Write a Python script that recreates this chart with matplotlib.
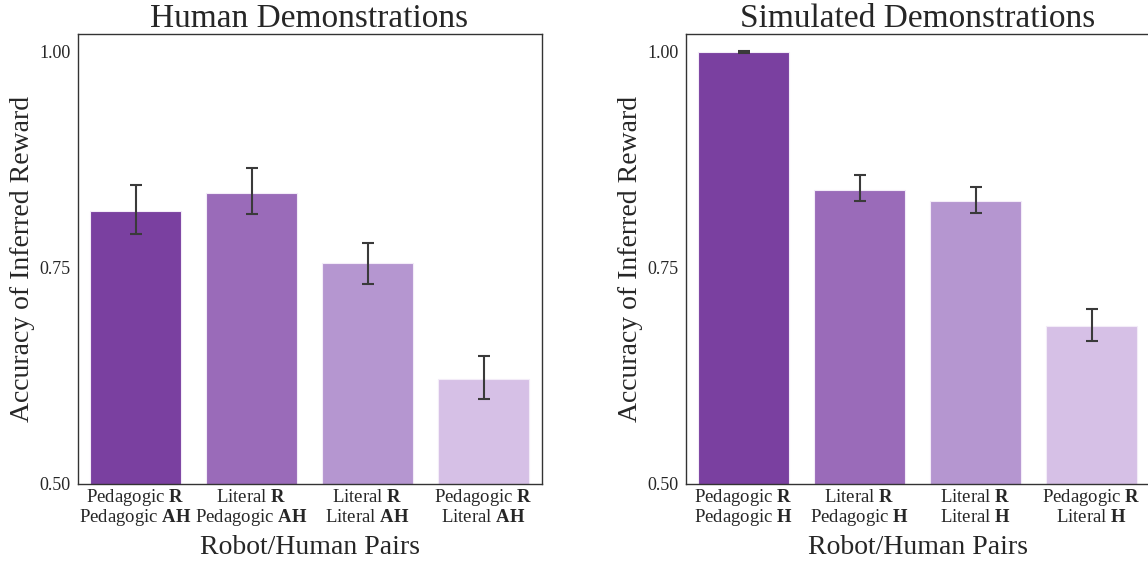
import matplotlib.pyplot as plt
import matplotlib.transforms as mtransforms
import numpy as np

plt.rcParams['font.family'] = 'Liberation Serif'
plt.rcParams['mathtext.fontset'] = 'custom'
plt.rcParams['mathtext.rm'] = 'Liberation Serif'
plt.rcParams['mathtext.bf'] = 'Liberation Serif:bold'

# data (each tick label = robot line, human line)
human_robot = ['Pedagogic', 'Literal', 'Literal', 'Pedagogic']
human_human = ['Pedagogic', 'Pedagogic', 'Literal', 'Literal']
human_tag = 'AH'
human_acc = [0.816, 0.836, 0.755, 0.621]
human_lo = [0.789, 0.812, 0.731, 0.598]
human_hi = [0.846, 0.865, 0.779, 0.648]

sim_robot = ['Pedagogic', 'Literal', 'Literal', 'Pedagogic']
sim_human = ['Pedagogic', 'Pedagogic', 'Literal', 'Literal']
sim_tag = 'H'
sim_acc = [0.999, 0.840, 0.827, 0.682]
sim_lo = [0.998, 0.827, 0.813, 0.665]
sim_hi = [1.000, 0.857, 0.843, 0.702]

colors = ['#7a40a0', '#9a6bb9', '#b596d0', '#d6c0e6']
txt = '#262626'

W, H = 1148, 563
fig = plt.figure(figsize=(W / 100, H / 100), dpi=100)


def panel(left_px, title, robot, human, tag, acc, lo, hi):
    ax = fig.add_axes([left_px / W, (H - 484) / H, 464 / W, 450 / H])
    x = np.arange(len(acc))
    acc = np.array(acc)
    yerr = [acc - np.array(lo), np.array(hi) - acc]
    ax.bar(x, acc, width=0.79, color=colors, edgecolor='#f3ecf8', linewidth=0.8)
    ax.errorbar(x, acc, yerr=yerr, fmt='none', ecolor='#3a3a3a',
                elinewidth=1.5, capsize=4, capthick=1.5)
    ax.set_xlim(-0.5, 3.5)
    ax.set_ylim(0.5, 1.02)
    ax.set_yticks([0.5, 0.75, 1.0])
    ax.set_yticklabels(['0.50', '0.75', '1.00'])
    ax.set_xticks(x)
    ax.set_xticklabels([])
    ax.tick_params(length=0, pad=5, labelsize=13, colors=txt)

    # two-line tick labels, each line on a fixed baseline
    base = ax.get_xaxis_transform()
    tr1 = mtransforms.offset_copy(base, fig=fig, x=0, y=-18, units='dots')
    tr2 = mtransforms.offset_copy(base, fig=fig, x=0, y=-38, units='dots')
    for i in x:
        ax.text(i, 0, robot[i] + ' $\\mathbf{R}$', transform=tr1,
                ha='center', va='baseline', fontsize=13.5, color=txt)
        ax.text(i, 0, human[i] + ' $\\mathbf{' + tag + '}$', transform=tr2,
                ha='center', va='baseline', fontsize=13.5, color=txt)

    for s in ax.spines.values():
        s.set_color('#333333')
        s.set_linewidth(1.0)
    ax.set_title(title, fontsize=24, color=txt, pad=3)
    ax.set_xlabel('Robot/Human Pairs', fontsize=20, color=txt)
    ax.xaxis.set_label_coords(0.5, -0.113)
    ax.set_ylabel('Accuracy of Inferred Reward', fontsize=20, color=txt, labelpad=3)
    return ax


panel(77.5, 'Human Demonstrations', human_robot, human_human, human_tag,
      human_acc, human_lo, human_hi)
panel(685.5, 'Simulated Demonstrations', sim_robot, sim_human, sim_tag,
      sim_acc, sim_lo, sim_hi)

fig.savefig('out.png', dpi=100)
